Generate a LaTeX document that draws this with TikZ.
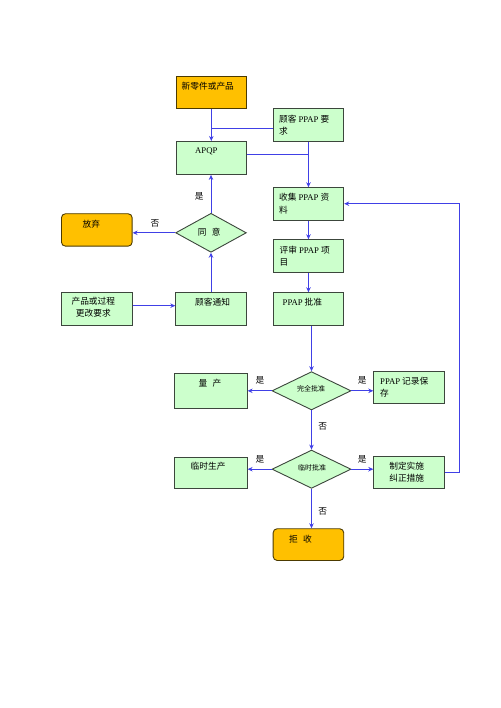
\documentclass[tikz,border=0pt]{standalone}
\usepackage{fontspec}
\setmainfont{Liberation Serif}
\newfontfamily\cjk{Noto Sans CJK SC}
\usetikzlibrary{shapes.geometric,arrows.meta}
\definecolor{gfill}{RGB}{204,255,204}
\definecolor{ofill}{RGB}{255,192,0}
\definecolor{bline}{RGB}{64,64,230}
\definecolor{edge}{RGB}{60,70,60}
\tikzset{
  gbox/.style={draw=edge,fill=gfill,line width=0.9pt,rectangle,inner sep=0pt,anchor=north west},
  obox/.style={draw=black!70!ofill,fill=ofill,line width=0.9pt,rectangle,inner sep=0pt,anchor=north west},
  rbox/.style={obox,rounded corners=4pt},
  dia/.style={draw=edge,fill=gfill,line width=0.9pt,diamond,inner sep=0pt},
  txt/.style={inner sep=0pt,font=\fontsize{8.7}{12}\selectfont\cjk,anchor=west},
  ctxt/.style={inner sep=0pt,font=\fontsize{8.7}{12}\selectfont\cjk,align=center},
  stxt/.style={inner sep=0pt,font=\fontsize{7}{9}\selectfont\cjk},
  lab/.style={inner sep=0pt,font=\fontsize{8.7}{12}\selectfont\cjk},
  con/.style={draw=bline,line width=0.9pt},
  arr/.style={con,-{Stealth[length=5pt,width=4.5pt]}},
}
\begin{document}
\begin{tikzpicture}[x=1pt,y=-1pt]
\useasboundingbox (0,0) rectangle (500,708);
% boxes
\node[obox,minimum width=70.3pt,minimum height=32.6pt] (new) at (175.7,75.7) {};
\node[gbox,minimum width=70.6pt,minimum height=32.7pt] (req) at (272.7,108.3) {};
\node[gbox,minimum width=70.3pt,minimum height=33pt] (apqp) at (175.7,141) {};
\node[gbox,minimum width=70.6pt,minimum height=32.7pt] (collect) at (272.7,187.3) {};
\node[gbox,minimum width=70.6pt,minimum height=33pt] (review) at (272.7,239.3) {};
\node[gbox,minimum width=70.6pt,minimum height=32.7pt] (approve) at (272.7,292.3) {};
\node[rbox,minimum width=70.7pt,minimum height=32.4pt] (abandon) at (61,213.3) {};
\node[gbox,minimum width=70.7pt,minimum height=33.3pt] (change) at (61,291.7) {};
\node[gbox,minimum width=70.7pt,minimum height=33.3pt] (notify) at (175.3,291.7) {};
\node[gbox,minimum width=72.7pt,minimum height=35pt] (mass) at (174,373.3) {};
\node[gbox,minimum width=71pt,minimum height=32.6pt] (record) at (373.3,370.7) {};
\node[gbox,minimum width=72.7pt,minimum height=31.6pt] (temp) at (174,456.7) {};
\node[gbox,minimum width=71pt,minimum height=32.3pt] (fix) at (373.3,456) {};
\node[rbox,minimum width=70.6pt,minimum height=31.7pt] (reject) at (272.7,528.3) {};
% diamonds
\node[dia,minimum width=70.7pt,minimum height=39pt] (agree) at (211,232.8) {};
\node[dia,minimum width=79pt,minimum height=38.3pt] (full) at (311.5,390.8) {};
\node[dia,minimum width=79pt,minimum height=38.3pt] (tmpok) at (311.5,469.2) {};
% texts
\node[txt] (tnew) at (181.5,86) {新零件或产品};
\node[txt] (treq1) at (279,119.3) {顾客 {\rmfamily PPAP} 要};
\node[txt] (treq2) at (279,131.7) {求};
\node[txt] (tapqp) at (195,151.7) {\rmfamily APQP};
\node[txt] (tcol1) at (279,197.3) {收集 {\rmfamily PPAP} 资};
\node[txt] (tcol2) at (279,210) {料};
\node[txt] (trev1) at (279.5,250) {评审 {\rmfamily PPAP} 项};
\node[txt] (trev2) at (279.5,262) {目};
\node[txt] (tapp) at (282.5,302.3) {{\rmfamily PPAP} 批准};
\node[txt] (taba) at (82.5,224.3) {放弃};
\node[lab] (tagr) at (209.3,231.7) {同\hspace{0.6em}意};
\node[ctxt] (tchg) at (93.3,307.7) {产品或过程\\更改要求};
\node[txt] (tnot) at (195,301.7) {顾客通知};
\node[txt] (tmass) at (198.5,383.3) {量\hspace{0.6em}产};
\node[stxt] (tfull) at (311,389.3) {完全批准};
\node[txt] (trec1) at (380,381) {{\rmfamily PPAP} 记录保};
\node[txt] (trec2) at (380,393.5) {存};
\node[txt] (ttemp) at (190.5,465.7) {临时生产};
\node[stxt] (ttok) at (312,467.7) {临时批准};
\node[ctxt] (tfix) at (406.7,472.3) {制定实施\\纠正措施};
\node[txt] (trej) at (289,539.3) {拒\hspace{0.6em}收};
% labels
\node[lab] (l1) at (199.3,196.7) {是};
\node[lab] (l2) at (155,223.3) {否};
\node[lab] (l3) at (260,380) {是};
\node[lab] (l4) at (362.3,380) {是};
\node[lab] (l5) at (322.7,426.7) {否};
\node[lab] (l6) at (260,459) {是};
\node[lab] (l7) at (362.3,459) {是};
\node[lab] (l8) at (322.7,511) {否};
% connectors
\draw[arr] (new.south) -- (apqp.north);
\draw[con] ([yshift=-3pt]req.west) -- ([yshift=-3pt]req.west -| new.south);
\draw[arr] (req.south) -- (collect.north);
\draw[con] ([yshift=3.2pt]apqp.east) -- ([yshift=3.2pt]apqp.east -| req.south);
\draw[arr] (collect.south) -- (review.north);
\draw[arr] (review.south) -- (approve.north);
\draw[arr] (full.north |- approve.south) -- (full.north);
\draw[arr] (full.west) -- (full.west -| mass.east);
\draw[arr] (full.east) -- (full.east -| record.west);
\draw[arr] (full.south) -- (tmpok.north);
\draw[arr] (tmpok.west) -- (tmpok.west -| temp.east);
\draw[arr] (tmpok.east) -- (tmpok.east -| fix.west);
\draw[arr] (tmpok.south) -- (tmpok.south |- reject.north);
\coordinate (fb1) at (459.3,472.3);
\coordinate (fb2) at (459.3,203.7);
\draw[arr] (fix.east) -- (fix.east -| fb1) -- (fb2) -- (fb2 -| collect.east);
\draw[arr] (agree.south |- notify.north) -- (agree.south);
\draw[arr] (agree.north) -- (agree.north |- apqp.south);
\draw[arr] (agree.west) -- (agree.west -| abandon.east);
\draw[arr] (change.east |- 0,305.7) -- (notify.west |- 0,305.7);
\end{tikzpicture}
\end{document}
